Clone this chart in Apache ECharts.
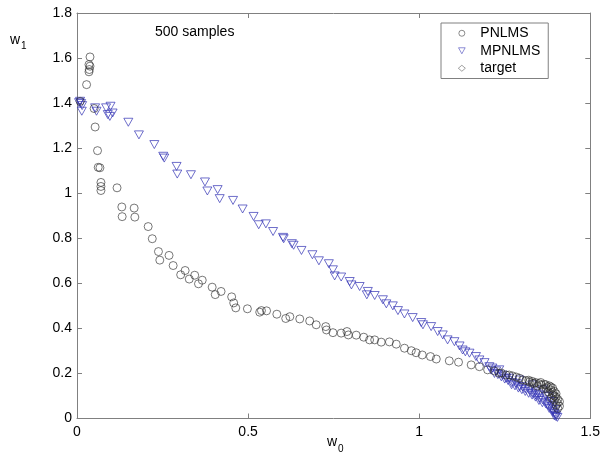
<!DOCTYPE html>
<html><head><meta charset="utf-8">
<script src="https://cdn.jsdelivr.net/npm/echarts@6/dist/echarts.min.js"></script>
<style>html,body{margin:0;padding:0;background:#fff}#c{width:603px;height:457px}</style>
</head><body><div id="c"></div>
<script>
var xTicks = [0, 0.5, 1, 1.5];
var yTicks = [0, 0.2, 0.4, 0.6, 0.8, 1, 1.2, 1.4, 1.6, 1.8];
var seriesNames = ['PNLMS', 'MPNLMS', 'target'];
var pnlms = [
[0.038,1.605],[0.035,1.571],[0.038,1.564],[0.036,1.549],[0.035,1.539],[0.028,1.482],[0.009,1.408],
[0.050,1.376],[0.053,1.294],[0.060,1.189],[0.062,1.115],[0.067,1.113],[0.070,1.048],[0.070,1.030],
[0.070,1.012],[0.117,1.024],[0.131,0.939],[0.132,0.896],[0.167,0.934],[0.169,0.894],[0.208,0.852],
[0.220,0.798],[0.238,0.741],[0.242,0.703],[0.269,0.724],[0.281,0.679],[0.303,0.638],[0.316,0.657],
[0.328,0.619],[0.344,0.636],[0.355,0.598],[0.366,0.614],[0.395,0.583],[0.404,0.550],[0.421,0.564],
[0.452,0.540],[0.458,0.513],[0.464,0.491],[0.498,0.487],[0.534,0.472],[0.539,0.479],[0.554,0.478],
[0.584,0.463],[0.610,0.444],[0.622,0.452],[0.651,0.442],[0.680,0.433],[0.699,0.416],[0.727,0.408],
[0.729,0.393],[0.748,0.381],[0.772,0.379],[0.789,0.386],[0.793,0.371],[0.816,0.370],[0.838,0.361],
[0.855,0.349],[0.870,0.349],[0.889,0.339],[0.913,0.340],[0.933,0.330],[0.957,0.312],[0.977,0.301],
[0.991,0.292],[1.009,0.282],[1.033,0.275],[1.050,0.264],[1.088,0.256],[1.115,0.250],[1.152,0.238],
[1.176,0.230],[1.200,0.216],[1.220,0.211],[1.234,0.201],[1.240,0.202],[1.254,0.193],[1.263,0.193],
[1.273,0.189],[1.284,0.184],[1.293,0.179],[1.302,0.171],[1.312,0.168],[1.322,0.162],[1.331,0.156],
[1.336,0.156],[1.345,0.144],[1.356,0.149],[1.363,0.131],[1.371,0.134],[1.375,0.141],[1.377,0.118],
[1.385,0.127],[1.386,0.091],[1.390,0.104],[1.395,0.082],[1.404,0.068],[1.400,0.060],
[1.320,0.170],[1.330,0.165],[1.340,0.160],[1.350,0.155],[1.355,0.160],[1.365,0.152],[1.370,0.150],
[1.380,0.145],[1.385,0.140],[1.390,0.135],[1.395,0.120],[1.400,0.110],[1.400,0.095],[1.405,0.085],
[1.410,0.075],[1.410,0.055],[1.405,0.045],[1.395,0.100],[1.390,0.115]
];
var mpnlms = [
[0.009,1.408],[0.012,1.398],[0.006,1.402],[0.015,1.389],[0.014,1.364],[0.053,1.379],[0.057,1.364],
[0.085,1.379],[0.098,1.386],[0.090,1.349],[0.096,1.341],[0.104,1.356],[0.150,1.315],[0.181,1.259],
[0.226,1.216],[0.252,1.164],[0.255,1.156],[0.291,1.119],[0.293,1.085],[0.333,1.082],[0.374,1.050],
[0.381,1.010],[0.411,1.016],[0.417,0.976],[0.456,0.968],[0.484,0.930],[0.516,0.897],[0.531,0.860],
[0.552,0.864],[0.573,0.830],[0.602,0.804],[0.604,0.798],[0.628,0.776],[0.633,0.769],[0.656,0.746],
[0.688,0.727],[0.707,0.700],[0.736,0.687],[0.748,0.660],[0.753,0.633],[0.772,0.628],[0.797,0.608],
[0.802,0.593],[0.826,0.586],[0.850,0.564],[0.847,0.549],[0.870,0.546],[0.894,0.527],[0.904,0.509],
[0.923,0.500],[0.938,0.479],[0.957,0.464],[0.981,0.448],[1.006,0.426],[1.011,0.416],[1.035,0.408],
[1.054,0.386],[1.069,0.371],[1.083,0.349],[1.103,0.341],[1.118,0.322],[1.127,0.304],[1.135,0.296],
[1.147,0.290],[1.166,0.275],[1.176,0.260],[1.191,0.248],[1.205,0.230],[1.214,0.224],[1.225,0.211],
[1.234,0.216],[1.244,0.193],[1.254,0.179],[1.263,0.179],[1.283,0.156],[1.293,0.171],[1.293,0.141],
[1.302,0.141],[1.322,0.127],[1.331,0.149],[1.331,0.112],[1.341,0.104],[1.351,0.090],[1.361,0.127],
[1.361,0.082],[1.375,0.060],[1.380,0.097],[1.380,0.052],[1.390,0.075],[1.390,0.038],[1.395,0.023],
[1.400,0.016],[1.404,0.005],
[1.210,0.215],[1.220,0.200],[1.230,0.195],[1.240,0.185],[1.250,0.175],[1.260,0.168],[1.270,0.160],
[1.270,0.150],[1.280,0.145],[1.290,0.135],[1.300,0.128],[1.310,0.120],[1.310,0.132],[1.320,0.112],
[1.330,0.104],[1.340,0.095],[1.340,0.118],[1.350,0.108],[1.350,0.080],[1.360,0.070],[1.370,0.100],
[1.370,0.065],[1.380,0.075],[1.380,0.045],[1.390,0.055],[1.390,0.030],[1.400,0.040],[1.400,0.008],
[1.395,0.012]
];
var target = [[1.4, 0.02]];

var chart = echarts.init(document.getElementById('c'), null, {renderer: 'canvas'});
var font = 'Liberation Sans, Arial, sans-serif';
var frame = '#808080';
function axisCommon(show) {
  return {
    axisLine: {show: true, onZero: false, lineStyle: {color: frame, width: 1}},
    axisTick: {show: true, inside: true, length: 5, lineStyle: {color: frame}},
    axisLabel: {show: show, color: '#000', fontSize: 14, fontFamily: font},
    splitLine: {show: false}
  };
}
var xa = Object.assign({type: 'value', min: xTicks[0], max: xTicks[xTicks.length - 1], interval: 0.5, position: 'bottom'}, axisCommon(true));
xa.axisLabel.margin = 7;
var xa2 = Object.assign({type: 'value', min: xTicks[0], max: xTicks[xTicks.length - 1], interval: 0.5, position: 'top'}, axisCommon(false));
var ya = Object.assign({type: 'value', min: yTicks[0], max: yTicks[yTicks.length - 1], interval: 0.2, position: 'left'}, axisCommon(true));
ya.axisLabel.margin = 5;
ya.axisLabel.formatter = function (v) { return String(Math.round(v * 10) / 10); };
var ya2 = Object.assign({type: 'value', min: yTicks[0], max: yTicks[yTicks.length - 1], interval: 0.2, position: 'right'}, axisCommon(false));

chart.setOption({
  animation: false,
  backgroundColor: '#fff',
  grid: {left: 77, right: 12, top: 13, bottom: 38.5, containLabel: false},
  xAxis: [xa, xa2],
  yAxis: [ya, ya2],
  legend: {
    orient: 'vertical', left: 441, top: 23,
    width: 110,
    backgroundColor: '#fff', borderColor: '#808080', borderWidth: 1,
    padding: [3, 8, 3, 17],
    itemWidth: 7, itemHeight: 6, itemGap: 3,
    itemStyle: {borderWidth: 0.7},
    textStyle: {fontSize: 14, fontFamily: font, color: '#000', lineHeight: 14.5, padding: [0, 0, 0, 10]},
    data: [
      {name: seriesNames[0], icon: 'circle', itemStyle: {color: 'rgba(0,0,0,0)', borderColor: '#333', borderWidth: 0.7}},
      {name: seriesNames[1], icon: 'path://M0,0L10,0L5,9Z', itemStyle: {color: 'rgba(0,0,0,0)', borderColor: '#3535b5', borderWidth: 0.7}},
      {name: seriesNames[2], icon: 'diamond', itemStyle: {color: 'rgba(0,0,0,0)', borderColor: '#555', borderWidth: 0.7}}
    ]
  },
  graphic: [
    {type: 'text', left: 155, top: 25, style: {text: '500 samples', font: '14px ' + font, fill: '#000'}},
    {type: 'text', left: 10, top: 33, style: {text: 'w', font: '14px ' + font, fill: '#000'}},
    {type: 'text', left: 21, top: 41, style: {text: '1', font: '10px ' + font, fill: '#000'}},
    {type: 'text', left: 327, top: 435, style: {text: 'w', font: '14px ' + font, fill: '#000'}},
    {type: 'text', left: 338, top: 444, style: {text: '0', font: '10px ' + font, fill: '#000'}}
  ],
  series: [
    {name: seriesNames[2], type: 'scatter', data: target, symbol: 'diamond', symbolSize: [7, 9],
     itemStyle: {color: 'rgba(0,0,0,0)', borderColor: '#555', borderWidth: 0.8}, z: 1},
    {name: seriesNames[1], type: 'scatter', data: mpnlms, symbol: 'path://M0,0L10,0L5,9Z', symbolSize: [9, 8],
     itemStyle: {color: 'rgba(0,0,0,0)', borderColor: '#3535b5', borderWidth: 0.9}, z: 2},
    {name: seriesNames[0], type: 'scatter', data: pnlms, symbol: 'circle', symbolSize: 8,
     itemStyle: {color: 'rgba(0,0,0,0)', borderColor: '#2a2a2a', borderWidth: 0.8}, z: 3}
  ]
});
</script></body></html>
